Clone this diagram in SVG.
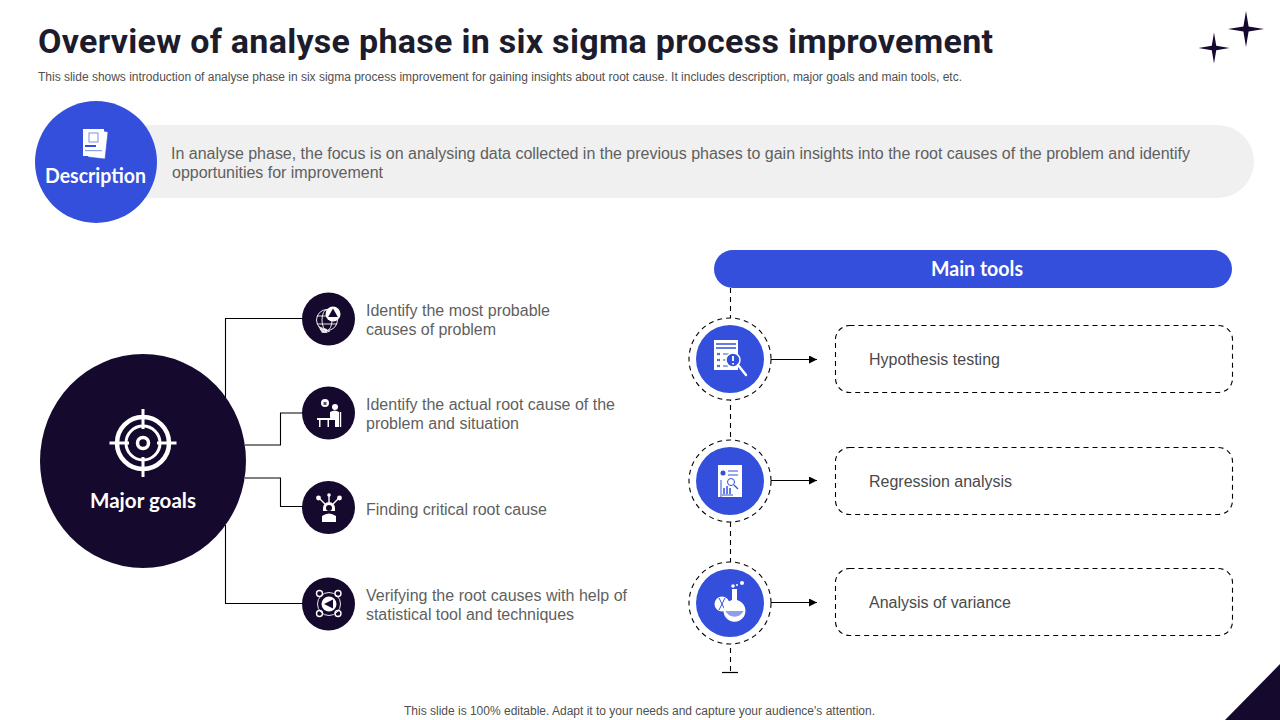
<svg xmlns="http://www.w3.org/2000/svg" width="1280" height="720" viewBox="0 0 1280 720">
<style>
.body{font-family:"Liberation Sans",Arial,sans-serif;font-size:16px;fill:#5f5f5f}
.small{font-family:"Liberation Sans",Arial,sans-serif;font-size:12px;fill:#505050}
.head{font-family:Lato,"Open Sans",sans-serif;font-weight:700;font-size:20px;fill:#fff}
.tool{font-family:"Liberation Sans",Arial,sans-serif;font-size:16px;fill:#4a4a4a}
.conn{fill:none;stroke:#000;stroke-width:1.1}
.dash{fill:none;stroke:#000;stroke-width:1.1;stroke-dasharray:5 4}
.ring{fill:#fff;stroke:#000;stroke-width:1.1;stroke-dasharray:5 4}
.dark{fill:#150a2d}
.blue{fill:#334fdb}
.w{fill:#fff}
.wl{fill:none;stroke:#fff;stroke-width:1.4}
.thin{fill:none;stroke:#fff;stroke-width:.9}
.bl{fill:none;stroke:#334fdb;stroke-width:1.2}
.box{fill:#fff;stroke:#000;stroke-width:1.1;stroke-dasharray:5 4}
</style>
<defs>
<marker id="arrow" markerUnits="userSpaceOnUse" markerWidth="9" markerHeight="8" refX="8" refY="4" orient="auto"><path d="M0 0L8 4L0 8z" fill="#000"/></marker>
<path id="star" d="M0 -18L2.600 -2.600L18 0L2.600 2.600L0 18L-2.600 2.600L-18 0L-2.600 -2.600z" class="dark"/>
</defs>
<rect width="1280" height="720" fill="#fff"/>
<text id="title" x="38" y="53" font-family="Roboto,Inter,sans-serif" font-weight="700" font-size="34" fill="#1c1c2c" textLength="955" lengthAdjust="spacing">Overview of analyse phase in six sigma process improvement</text>
<text id="subtitle" x="38" y="81" class="small" textLength="924" lengthAdjust="spacing">This slide shows introduction of analyse phase in six sigma process improvement for gaining insights about root cause. It includes description, major goals and main tools, etc.</text>
<g id="stars"><use href="#star" x="1246" y="29"/><use href="#star" transform="translate(1214 48) scale(.86)"/></g>
<path id="corner" d="M1280 664V720H1225z" class="dark"/>
<text id="footer" x="404" y="715" class="small" textLength="471" lengthAdjust="spacing">This slide is 100% editable. Adapt it to your needs and capture your audience's attention.</text>

<g id="description">
<rect x="96" y="125" width="1158" height="73" rx="36.500" fill="#f0f0f0"/>
<circle cx="96" cy="162" r="61" class="blue"/>
<g id="description-icon"><path d="M100 130L108 132L105 159L88 157z" fill="#fff"/><path d="M100 130L108 132L105 159L88 157" fill="none" stroke="#334fdb" stroke-width=".6"/><rect x="83" y="129" width="21" height="27" class="w"/><rect x="89" y="133" width="9" height="9" fill="none" stroke="#7f8fdf" stroke-width="1"/><rect x="85" y="145" width="11" height="2" class="blue"/><rect x="85" y="150" width="17" height="1.200" fill="#8fa0e8"/></g>
<text x="45" y="183" class="head" textLength="101" lengthAdjust="spacingAndGlyphs">Description</text>
<text x="171" y="159" class="body" textLength="1019" lengthAdjust="spacing">In analyse phase, the focus is on analysing data collected in the previous phases to gain insights into the root causes of the problem and identify</text>
<text x="172" y="178" class="body" textLength="211" lengthAdjust="spacing">opportunities for improvement</text>
</g>

<g id="connectors">
<path class="conn" d="M225.500 400V318.500H303"/>
<path class="conn" d="M245 445H280.500V413H303"/>
<path class="conn" d="M245 478H280.500V506.500H303"/>
<path class="conn" d="M225.500 525V603.500H303"/>
<path class="dash" d="M730.500 288V672"/>
<path d="M722 672.500H738" stroke="#000" stroke-width="1.200" fill="none"/>
<path class="conn" d="M771 359.500H817" marker-end="url(#arrow)"/>
<path class="conn" d="M771 480.500H817" marker-end="url(#arrow)"/>
<path class="conn" d="M771 602.500H817" marker-end="url(#arrow)"/>
</g>

<g id="major-goals">
<ellipse cx="143" cy="461" rx="103" ry="107" class="dark"/>
<g id="target-icon" fill="none" stroke="#fff"><circle cx="143" cy="443" r="26" stroke-width="4.500"/><circle cx="143" cy="443" r="17" stroke-width="3"/><circle cx="143" cy="443" r="5.500" stroke-width="3.500"/><path d="M143 409V429M143 457V477M109.500 443H129M157 443H176.500" stroke-width="3"/></g>
<text x="90" y="508" class="head" textLength="106" lengthAdjust="spacingAndGlyphs">Major goals</text>
</g>

<g id="goal-1">
<circle cx="328.500" cy="319" r="26.500" class="dark"/>
<g class="thin"><circle cx="327" cy="320" r="10.500"/><ellipse cx="327" cy="320" rx="5" ry="10.500"/><path d="M317 316H337M317 324H337M320 329Q324 334 330 331"/></g><path d="M318 326L322 333H327V329z" fill="#fff" opacity=".75"/><circle cx="333" cy="314" r="7.500" class="w"/><path d="M333 308.500L337.800 317H328.200z" class="dark"/>
<text x="366" y="316" class="body" textLength="184" lengthAdjust="spacing">Identify the most probable</text>
<text x="366" y="335" class="body" textLength="130" lengthAdjust="spacing">causes of problem</text>
</g>
<g id="goal-2">
<circle cx="328.500" cy="413" r="26.500" class="dark"/>
<circle cx="325" cy="403" r="4" class="w"/><path d="M323.500 402H326.500V405H323.500z" class="dark" opacity=".7"/><circle cx="335" cy="407" r="3" class="w"/><path d="M330 412Q335 409 339 412V427H335V420H331L330 417z" class="w"/><path d="M317 418H331V420H329V427H327.500V420H320.500V427H319V420H317z" class="w"/><path class="wl" d="M340.500 412V427"/>
<text x="366" y="410" class="body" textLength="249" lengthAdjust="spacing">Identify the actual root cause of the</text>
<text x="366" y="429" class="body" textLength="153" lengthAdjust="spacing">problem and situation</text>
</g>
<g id="goal-3">
<circle cx="328.500" cy="507.500" r="26.500" class="dark"/>
<path d="M323 508A6 6 0 0 1 335 508V511H323z" class="w"/><circle cx="329" cy="508" r="3" class="dark"/><path d="M322 522V516Q329 511 336 516V522z" class="w"/><path class="wl" d="M329 502V496M325 504L319 498M333 504L339 498"/><circle cx="329" cy="495" r="1.800" class="w"/><circle cx="318.500" cy="498" r="2.400" class="w"/><circle cx="339.500" cy="498" r="2.400" class="w"/>
<text x="366" y="515" class="body" textLength="181" lengthAdjust="spacing">Finding critical root cause</text>
</g>
<g id="goal-4">
<circle cx="328.500" cy="604" r="26.500" class="dark"/>
<circle cx="329" cy="604" r="11.500" class="thin"/><circle cx="329" cy="604" r="7.500" class="w"/><path d="M324 604L333 599.500V608.500z" class="dark"/><circle cx="319.500" cy="593.500" r="3" class="wl"/><circle cx="338" cy="593.500" r="3" class="wl"/><circle cx="319.500" cy="613.500" r="3" class="wl"/><circle cx="338" cy="613.500" r="3" class="wl"/>
<text x="366" y="601" class="body" textLength="261" lengthAdjust="spacing">Verifying the root causes with help of</text>
<text x="366" y="620" class="body" textLength="208" lengthAdjust="spacing">statistical tool and techniques</text>
</g>

<g id="main-tools">
<rect x="714" y="250" width="518" height="38" rx="19" class="blue"/>
<text x="931" y="276" class="head" textLength="92" lengthAdjust="spacingAndGlyphs">Main tools</text>
</g>

<g id="tool-1">
<circle cx="730" cy="359" r="41" class="ring"/>
<circle cx="730" cy="359" r="34" class="blue"/>
<rect x="714" y="340" width="24" height="30" class="w"/><path d="M716 344H736M716 348H736" stroke="#334fdb" stroke-width="1.300"/><path d="M717 353L720 355M720 353L717 355M717 359L720 361M720 359L717 361M717 365L720 367M720 365L717 367M723 354H730M723 360H728M723 366H728" stroke="#334fdb" stroke-width="1"/><circle cx="733" cy="360" r="7" fill="#334fdb" stroke="#fff" stroke-width="1.500"/><path d="M733 356V361M733 363V364.500" stroke="#fff" stroke-width="1.800"/><path d="M738 365L746 375" stroke="#fff" stroke-width="2.500" stroke-linecap="round"/>
<rect x="835.500" y="325.500" width="397" height="67" rx="14" class="box"/>
<text x="869" y="365" class="tool" textLength="131" lengthAdjust="spacing">Hypothesis testing</text>
</g>
<g id="tool-2">
<circle cx="730" cy="481" r="41" class="ring"/>
<circle cx="730" cy="481" r="34" class="blue"/>
<rect x="718" y="465" width="24" height="32" class="w"/><circle cx="723" cy="473" r="2.500" fill="#334fdb"/><path d="M728 471H738M728 475H738" stroke="#334fdb"/><path d="M721 497V480M722 495H733" stroke="#334fdb"/><path d="M724 494V488M727 494V486M730 494V488" stroke="#334fdb" stroke-width="1.500"/><circle cx="731" cy="482" r="3.500" fill="none" stroke="#334fdb"/><path d="M734 485L738 489" stroke="#334fdb" stroke-width="1.300"/>
<rect x="835.500" y="447.500" width="397" height="67" rx="14" class="box"/>
<text x="869" y="487" class="tool" textLength="143" lengthAdjust="spacing">Regression analysis</text>
</g>
<g id="tool-3">
<circle cx="730" cy="603" r="41" class="ring"/>
<circle cx="730" cy="603" r="34" class="blue"/>
<circle cx="722" cy="604" r="7.500" class="w"/><path d="M719 598L725 610M725 598L719 610" stroke="#334fdb"/>
<path d="M732 589H737V600A11 11 0 1 1 732 600z" class="w"/><path d="M725.500 611A10 10 0 0 0 743.500 611z" fill="#334fdb" opacity=".55"/><circle cx="733" cy="586" r="1.800" class="w"/><circle cx="742" cy="583" r="2" class="w"/><circle cx="737" cy="585" r="1" class="w"/>
<rect x="835.500" y="568.500" width="397" height="67" rx="14" class="box"/>
<text x="869" y="608" class="tool" textLength="142" lengthAdjust="spacing">Analysis of variance</text>
</g>
</svg>
